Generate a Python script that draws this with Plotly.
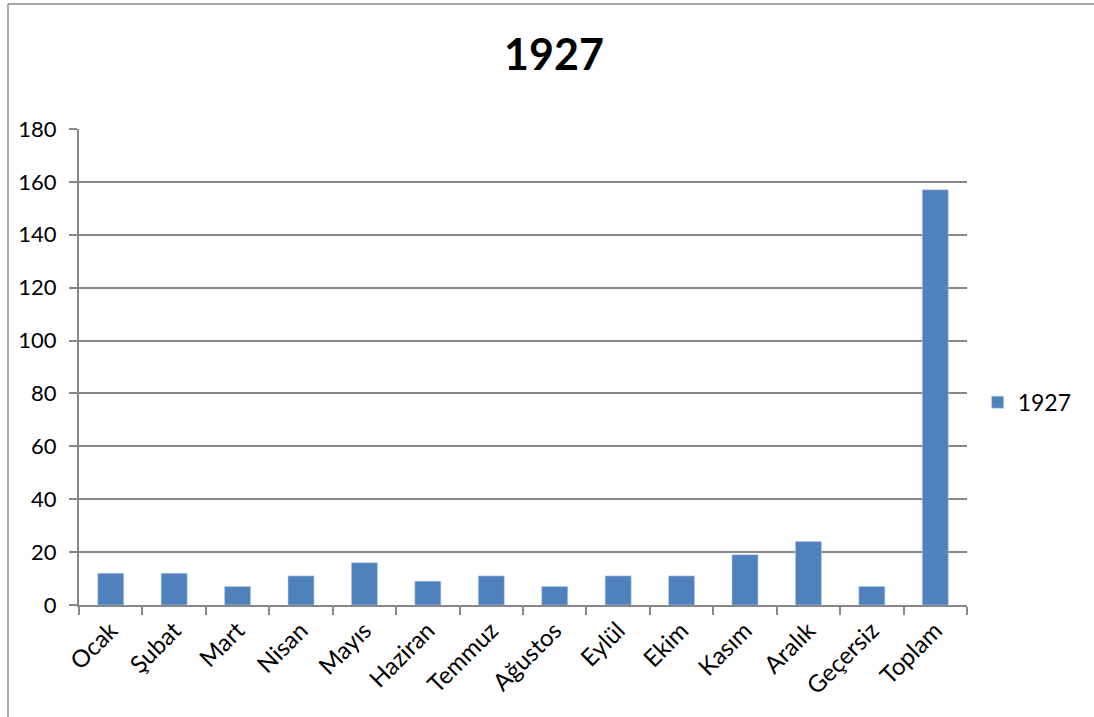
import plotly.graph_objects as go

categories = ["Ocak", "Şubat", "Mart", "Nisan", "Mayıs", "Haziran", "Temmuz",
              "Ağustos", "Eylül", "Ekim", "Kasım", "Aralık", "Geçersiz", "Toplam"]
values_1927 = [12, 12, 7, 11, 16, 9, 11, 7, 11, 11, 19, 24, 7, 157]
series_name = "1927"
y_ticks = [0, 20, 40, 60, 80, 100, 120, 140, 160, 180]

FONT = "Lato, 'Liberation Sans', sans-serif"
AXIS_COLOR = "#878787"

fig = go.Figure()
fig.add_trace(go.Bar(
    x=categories, y=values_1927, name=series_name,
    marker=dict(color="#4F81BD", line=dict(color="#B9CDE5", width=0.6)),
    width=0.41,
))

fig.update_layout(
    width=1094, height=717,
    margin=dict(l=79, r=127, t=129, b=112, autoexpand=False),
    paper_bgcolor="white", plot_bgcolor="white",
    font=dict(family=FONT, size=21, color="black"),
    title=dict(text="<b>1927</b>", x=(554 / 1094), xanchor="center",
               y=1 - 55 / 717, yanchor="middle",
               font=dict(family=FONT, size=43, color="black")),
    showlegend=True,
    legend=dict(x=1.012, y=0.426, xanchor="left", yanchor="middle",
                font=dict(family=FONT, size=23, color="black"),
                itemwidth=30, bgcolor="rgba(0,0,0,0)"),
    bargap=0.59,
)
fig.update_xaxes(
    showline=True, linecolor=AXIS_COLOR, linewidth=2,
    ticks="outside", ticklen=8, tickcolor=AXIS_COLOR, tickwidth=2,
    tickson="boundaries", tickangle=-45, showgrid=False, automargin=False,
    tickfont=dict(family=FONT, size=24, color="black"),
)
fig.update_yaxes(
    range=[0, 180], tickvals=y_ticks, showgrid=True,
    gridcolor=AXIS_COLOR, gridwidth=2, automargin=False,
    showline=True, linecolor=AXIS_COLOR, linewidth=2,
    ticks="outside", ticklen=8, tickcolor=AXIS_COLOR, tickwidth=2,
    ticklabelstandoff=8,
    tickfont=dict(family=FONT, size=22, color="black"), zeroline=False,
)

# chart frame (left and top border)
fx0 = (8 - 79) / 888
fytop = (605 - 4) / 476
fybot = (605 - 720) / 476
fig.add_shape(type="line", xref="paper", yref="paper", x0=fx0, x1=fx0,
              y0=fybot, y1=fytop, line=dict(color="#8a8a8a", width=1.5))
fig.add_shape(type="line", xref="paper", yref="paper", x0=fx0, x1=(1100 - 79) / 888,
              y0=fytop, y1=fytop, line=dict(color="#8a8a8a", width=1.5))

fig.write_html("out.html", config={"displayModeBar": False},
               post_script="document.body.style.margin='0px';")
